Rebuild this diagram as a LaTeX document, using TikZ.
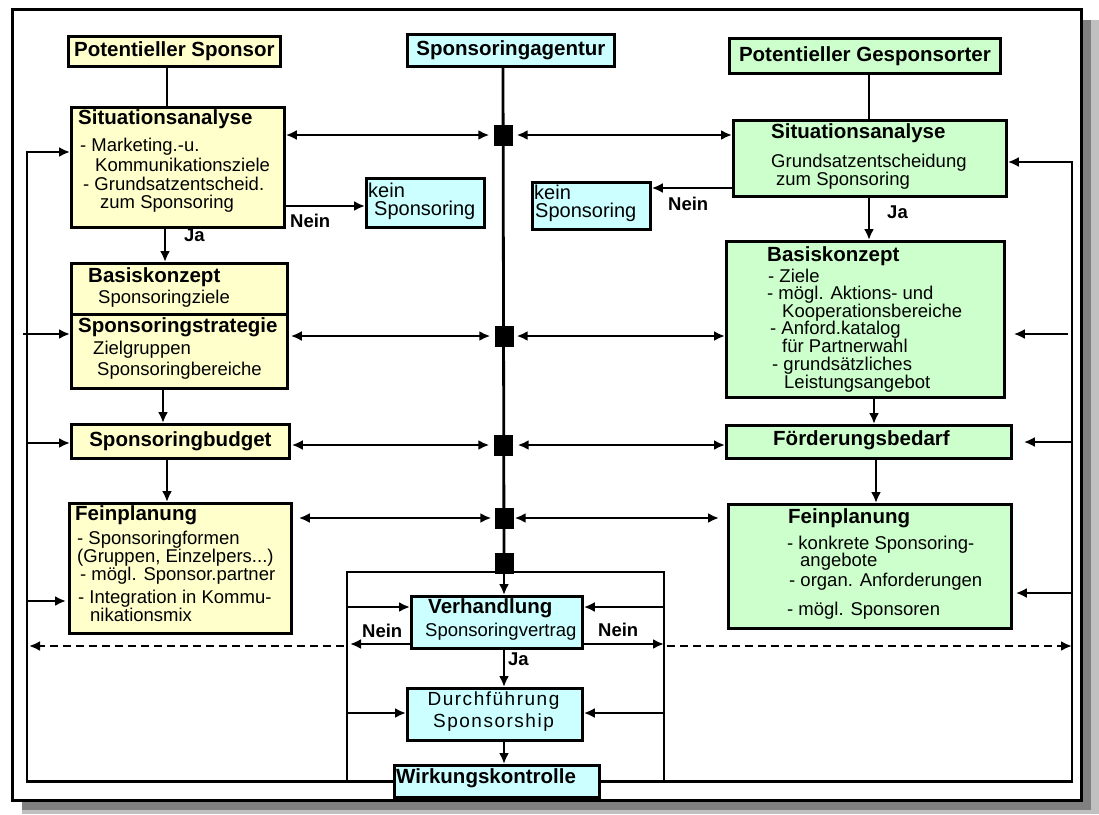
\documentclass[tikz,border=0pt]{standalone}
\usepackage{fontspec}
\setmainfont{Liberation Sans}
\usetikzlibrary{arrows.meta,calc}
\definecolor{yel}{HTML}{FFFFCC}
\definecolor{grn}{HTML}{CCFFCC}
\definecolor{cyn}{HTML}{CCFFFF}
\definecolor{shd}{HTML}{808080}
\definecolor{shl}{HTML}{C0C0C0}
\begin{document}
\begin{tikzpicture}[x=1pt,y=-1pt,
  bx/.style={draw, line width=2.8pt, inner sep=0pt, anchor=north west},
  ybx/.style={bx, fill=yel},
  gbx/.style={bx, fill=grn},
  cbx/.style={bx, fill=cyn},
  ln/.style={line width=2.8pt},
  arr/.style={ln, -{Latex[length=11pt,width=10pt]}},
  dbl/.style={ln, {Latex[length=11pt,width=10pt]}-{Latex[length=11pt,width=10pt]}},
  dsh/.style={arr, dash pattern=on 8pt off 5pt},
  tb/.style={font=\fontsize{20.5}{24}\selectfont\bfseries, inner sep=0pt, anchor=base west},
  tbc/.style={font=\fontsize{20.5}{24}\selectfont\bfseries},
  tr/.style={font=\fontsize{18.5}{20}\selectfont, inner sep=0pt, anchor=base west},
  tk/.style={font=\fontsize{20}{22}\selectfont, inner sep=0pt, anchor=base west},
  tl/.style={font=\fontsize{18.5}{20}\selectfont\bfseries, inner sep=0pt, anchor=base west},
  tsp/.style={font=\fontsize{19}{22}\selectfont\addfontfeature{LetterSpace=8}, inner sep=0pt, anchor=base},
  sq/.style={fill=black, minimum width=19pt, minimum height=21pt, inner sep=0pt}
]
\useasboundingbox (0,0) rectangle (1099,814);
% shadow and frame
\fill[shl] (22,20) rectangle (1099,814);
\fill[shd] (22,20) rectangle (1091,810);
\draw[line width=3pt, fill=white] (12,9) rectangle (1081,800);

% helper coordinates
\coordinate (xL) at (27,0);
\coordinate (xR) at (1072,0);
\coordinate (xIL) at (347,0);
\coordinate (xIR) at (664,0);
\coordinate (c152) at (0,152);
\coordinate (c162) at (0,162);
\coordinate (c188) at (0,188);
\coordinate (c206) at (0,206);
\coordinate (c334) at (0,334);
\coordinate (c442) at (0,442);
\coordinate (c443) at (0,443);
\coordinate (c572) at (0,572);
\coordinate (c593) at (0,593);
\coordinate (c601) at (0,601);
\coordinate (c607) at (0,607);
\coordinate (c644) at (0,644);
\coordinate (c646) at (0,646);
\coordinate (c713) at (0,713);
\coordinate (x163) at (163,0);
\coordinate (x165) at (165,0);
\coordinate (x167) at (167,0);
\coordinate (x869) at (869,0);
\coordinate (x874) at (874,0);
\coordinate (x876) at (876,0);

% boxes (yellow)
\node[ybx, minimum width=212pt, minimum height=30pt] (ps) at (67,35) {};
\node[ybx, minimum width=213pt, minimum height=120pt] (ysit) at (70,106) {};
\node[ybx, minimum width=216pt, minimum height=51pt] (ybk) at (70,262) {};
\node[ybx, minimum width=216pt, minimum height=74pt] (ystr) at (70,313) {};
\node[ybx, minimum width=218pt, minimum height=34pt] (ybud) at (70,423) {};
\node[ybx, minimum width=222pt, minimum height=130pt] (yfein) at (68,502) {};
% boxes (cyan)
\node[cbx, minimum width=207pt, minimum height=32pt] (agt) at (406,33) {};
\node[cbx, minimum width=118pt, minimum height=49pt] (kein1) at (365,177) {};
\node[cbx, minimum width=118pt, minimum height=47pt] (kein2) at (531,181) {};
\node[cbx, minimum width=171pt, minimum height=52pt] (verh) at (410,595) {};
\node[cbx, minimum width=175pt, minimum height=52pt] (durch) at (406,687) {};
\node[cbx, minimum width=205pt, minimum height=32pt] (wirk) at (393,764) {};
% boxes (green)
\node[gbx, minimum width=271pt, minimum height=35pt] (pg) at (728,37) {};
\node[gbx, minimum width=273pt, minimum height=76pt] (gsit) at (732,119) {};
\node[gbx, minimum width=278pt, minimum height=156pt] (gbas) at (725,240) {};
\node[gbx, minimum width=285pt, minimum height=33pt] (gfoe) at (725,424) {};
\node[gbx, minimum width=283pt, minimum height=124pt] (gfein) at (727,503) {};

% junction squares
\node[sq] (s1) at (503,135) {};
\node[sq] (s2) at (504,336) {};
\node[sq] (s3) at (503,445) {};
\node[sq] (s4) at (504,518) {};
\node[sq] (s5) at (504,563) {};

% central line
\draw[ln] (s1 |- agt.south) -- (s5.center);

% top connectors
\draw[ln] (ps.south -| x167) -- (ysit.north -| x167);
\draw[ln] (pg.south -| x869) -- (gsit.north -| x869);

% vertical flows left
\draw[arr] (ysit.south -| x165) -- (ybk.north -| x165);
\draw[arr] (ystr.south -| x163) -- (ybud.north -| x163);
\draw[arr] (ybud.south -| x167) -- (yfein.north -| x167);
% vertical flows right
\draw[arr] (gsit.south -| x869) -- (gbas.north -| x869);
\draw[arr] (gbas.south -| x874) -- (gfoe.north -| x874);
\draw[arr] (gfoe.south -| x876) -- (gfein.north -| x876);

% rows through squares
\draw[dbl] (ysit.east |- s1) -- ([xshift=-4pt]s1.west);
\draw[dbl] ([xshift=4pt]s1.east) -- (gsit.west |- s1);
\draw[dbl] ([xshift=2pt]ystr.east |- s2) -- ([xshift=-4pt]s2.west);
\draw[dbl] ([xshift=3pt]s2.east) -- (gbas.west |- s2);
\draw[dbl] ([xshift=1pt]ybud.east |- s3) -- ([xshift=-4pt]s3.west);
\draw[dbl] ([xshift=5pt]s3.east) -- (gfoe.west |- s3);
\draw[dbl] ([xshift=6pt]yfein.east |- s4) -- ([xshift=-3pt]s4.west);
\draw[dbl] ([xshift=1pt]s4.east) -- ([xshift=-8pt]gfein.west |- s4);

% Nein to kein Sponsoring
\draw[arr] (ysit.east |- c206) -- (kein1.west |- c206);
\draw[arr] (gsit.west |- c188) -- (kein2.east |- c188);

% feedback left
\draw[arr] (wirk.west) -- (wirk.west -| xL) -- (xL |- c152) -- (ysit.west |- c152);
\draw[arr] ([xshift=-4pt]xL |- c334) -- (ystr.west |- c334);
\draw[arr] (xL |- c443) -- (ybud.west |- c443);
\draw[arr] (xL |- c601) -- ([xshift=-2pt]yfein.west |- c601);
% feedback right
\draw[arr] (wirk.east) -- (wirk.east -| xR) -- (xR |- c162) -- (gsit.east |- c162);
\draw[arr] ([xshift=-4pt]xR |- c334) -- ([xshift=8pt]gbas.east |- c334);
\draw[arr] (xR |- c442) -- ([xshift=11pt]gfoe.east |- c442);
\draw[arr] (xR |- c593) -- ([xshift=3pt]gfein.east |- c593);

% inner frame
\draw[ln] (wirk.west -| xIL) -- (xIL |- c572) -- (xIR |- c572) -- (xIR |- wirk.east);
\draw[arr] (xIL |- c607) -- (verh.west |- c607);
\draw[arr] (xIR |- c607) -- (verh.east |- c607);
\draw[arr] (xIL |- c713) -- (durch.west |- c713);
\draw[arr] (xIR |- c713) -- (durch.east |- c713);
\draw[arr] (s5.south) -- (s5.south |- verh.north);
\draw[arr] (verh.south -| s5) -- (durch.north -| s5);
\draw[arr] (durch.south -| s5) -- (wirk.north -| s5);

% Nein from Verhandlung
\draw[arr] (verh.west |- c644) -- ([xshift=3pt]xIL |- c644);
\draw[dsh] ([xshift=-3pt]xIL |- c646) -- ([xshift=2pt]xL |- c646);
\draw[arr] (verh.east |- c644) -- (xIR |- c644);
\draw[dsh] ([xshift=3pt]xIR |- c646) -- (xR |- c646);

% texts: single line titles
\node[tbc] (tps) at (ps.center) {Potentieller Sponsor};
\node[tbc] (tagt) at (agt.center) {Sponsoringagentur};
\node[tbc] (tpg) at (pg.center) {Potentieller Gesponsorter};
\node[tbc] (tbud) at (ybud.center) {Sponsoringbudget};
\node[tb] (tfoe) at (773,445) {Förderungsbedarf};
\node[tb] (twirk) at (396,783) {Wirkungskontrolle};

% yellow Situationsanalyse
\node[tb] (t1) at (78,124) {Situationsanalyse};
\node[tr] (t2) at (80,151) {- Marketing.-u.};
\node[tr] (t3) at (95,171) {Kommunikationsziele};
\node[tr] (t4) at (83,190) {- Grundsatzentscheid.};
\node[tr] (t5) at (100,208) {zum Sponsoring};
% yellow Basiskonzept / Strategie
\node[tb] (t6) at (88,282) {Basiskonzept};
\node[tr] (t7) at (98,303) {Sponsoringziele};
\node[tb] (t8) at (78,332) {Sponsoringstrategie};
\node[tr] (t9) at (93,354) {Zielgruppen};
\node[tr] (t10) at (97,375) {Sponsoringbereiche};
% yellow Feinplanung
\node[tb] (t11) at (75,520) {Feinplanung};
\node[tr] (t12) at (77,544) {- Sponsoringformen};
\node[tr] (t13) at (77,562) {(Gruppen, Einzelpers...)};
\node[tr] (t14) at (80,580) {- mögl. Sponsor.partner};
\node[tr] (t15) at (78,603) {- Integration in Kommu-};
\node[tr] (t16) at (90,621) {nikationsmix};

% kein Sponsoring
\node[tk] (t17) at (368,197) {kein};
\node[tk] (t18) at (374,215) {Sponsoring};
\node[tk] (t19) at (534,199) {kein};
\node[tk] (t20) at (535,217) {Sponsoring};

% green Situationsanalyse
\node[tb] (t21) at (771,138) {Situationsanalyse};
\node[tr] (t22) at (771,167) {Grundsatzentscheidung};
\node[tr] (t23) at (776,185) {zum Sponsoring};
% green Basiskonzept
\node[tb] (t24) at (767,261) {Basiskonzept};
\node[tr] (t25) at (768,282) {- Ziele};
\node[tr] (t26) at (767,299.5) {- mögl. Aktions- und};
\node[tr] (t27) at (782,317) {Kooperationsbereiche};
\node[tr] (t28) at (770,334.5) {- Anford.katalog};
\node[tr] (t29) at (782,352) {für Partnerwahl};
\node[tr] (t30) at (772,370) {- grundsätzliches};
\node[tr] (t31) at (784,388) {Leistungsangebot};
% green Feinplanung
\node[tb] (t32) at (788,523) {Feinplanung};
\node[tr] (t33) at (787,549) {- konkrete Sponsoring-};
\node[tr] (t34) at (800,566) {angebote};
\node[tr] (t35) at (789,586) {- organ. Anforderungen};
\node[tr] (t36) at (787,615) {- mögl. Sponsoren};

% Verhandlung / Durchfuehrung
\node[tb] (t37) at (428,613) {Verhandlung};
\node[tr] (t38) at (425,636) {Sponsoringvertrag};
\node[tsp] (t39) at (493.5,705) {Durchführung};
\node[tsp] (t40) at (493.5,727) {Sponsorship};

% labels
\node[tl] (l1) at (290,227) {Nein};
\node[tl] (l2) at (184,241) {Ja};
\node[tl] (l3) at (668,210) {Nein};
\node[tl] (l4) at (887,218) {Ja};
\node[tl] (l5) at (362,637) {Nein};
\node[tl] (l6) at (598,636) {Nein};
\node[tl] (l7) at (508,665) {Ja};
\end{tikzpicture}
\end{document}
